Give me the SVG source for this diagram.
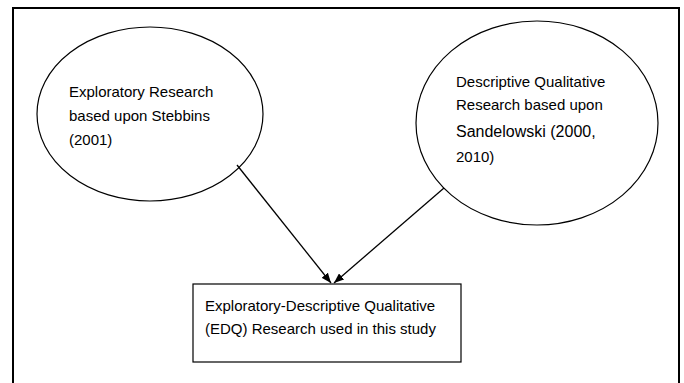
<svg xmlns="http://www.w3.org/2000/svg" width="684" height="383" viewBox="0 0 684 383">
<style>
.t{font-family:"Liberation Sans",Arial,sans-serif;font-size:15px;fill:#000}
.n{fill:#fff;stroke:#000;stroke-width:1.2}
.c{stroke:#000;stroke-width:1.3;fill:none}
</style>
<defs>
<marker id="ah" viewBox="0 0 10 8" refX="10" refY="4" markerWidth="10" markerHeight="8" markerUnits="userSpaceOnUse" orient="auto">
<path d="M0,0 L10,4 L0,8 Z" fill="#000"/>
</marker>
</defs>
<rect width="684" height="383" fill="#fff"/>
<path d="M13,390 L13,8 L679,8 L679,390" fill="none" stroke="#000" stroke-width="2"/>
<g id="node-exploratory">
<ellipse class="n" cx="150" cy="114" rx="113" ry="87"/>
<text class="t" x="69" y="97">Exploratory Research</text>
<text class="t" x="69" y="121">based upon Stebbins</text>
<text class="t" x="69" y="145">(2001)</text>
</g>
<g id="node-descriptive">
<ellipse class="n" cx="537" cy="123" rx="121" ry="102"/>
<text class="t" x="456" y="87">Descriptive Qualitative</text>
<text class="t" x="456" y="110">Research based upon</text>
<text class="t" x="456" y="137" style="font-size:16px">Sandelowski (2000,</text>
<text class="t" x="456" y="162">2010)</text>
</g>
<g id="node-edq">
<rect class="n" x="193" y="284" width="268" height="78"/>
<text class="t" x="205" y="311">Exploratory-Descriptive Qualitative</text>
<text class="t" x="205" y="334">(EDQ) Research used in this study</text>
</g>
<g id="connectors">
<line class="c" x1="237" y1="165" x2="331" y2="283" marker-end="url(#ah)"/>
<line class="c" x1="444" y1="188" x2="334" y2="283" marker-end="url(#ah)"/>
</g>
</svg>
